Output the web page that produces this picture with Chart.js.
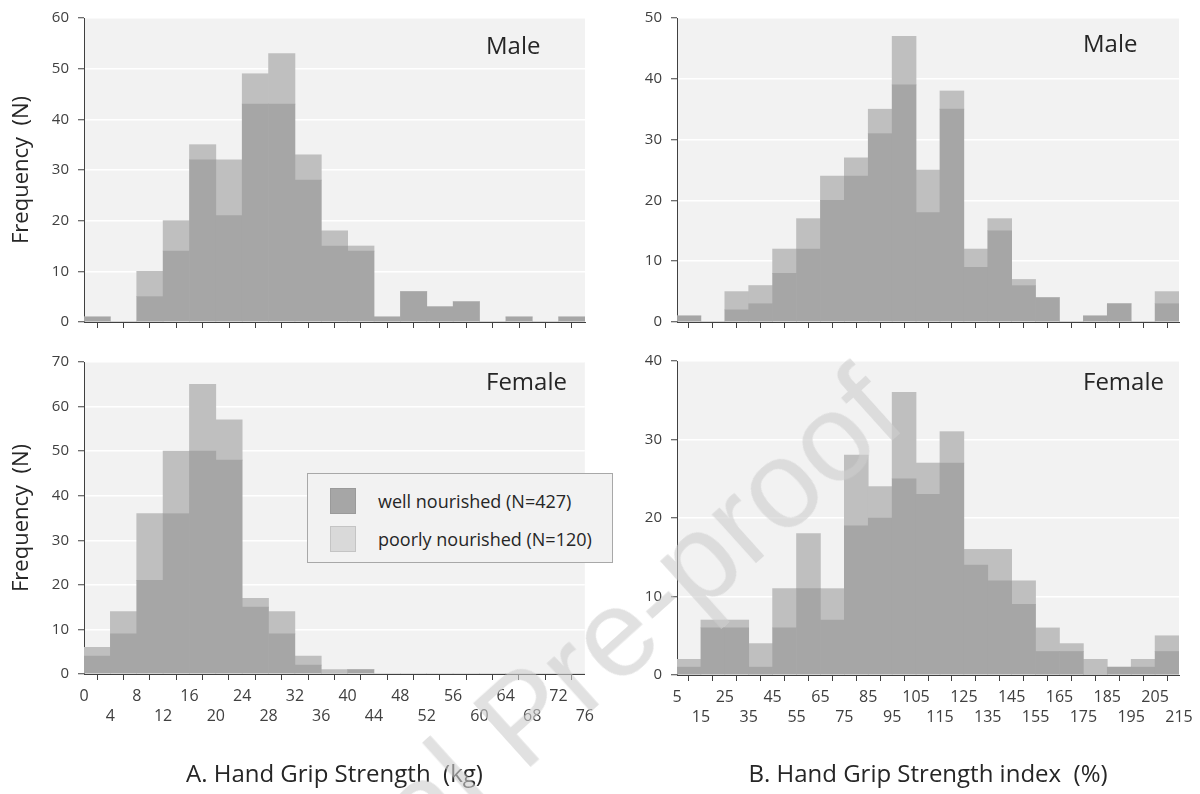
<!DOCTYPE html>
<html>
<head>
<meta charset="utf-8">
<script src="https://cdn.jsdelivr.net/npm/chart.js@4.4.1/dist/chart.umd.min.js"></script>
<style>
  body { margin: 0; background: #fff; }
  #lienzo { position: relative; width: 1200px; height: 794px; overflow: hidden; background: #fff; font-family: 'Open Sans', sans-serif; }
  .panel { position: absolute; }
  #leyenda { position: absolute; left: 307px; top: 473px; width: 306px; height: 90px; box-sizing: border-box;
             border: 1px solid #a8a8a8; background: #f2f2f2; }
  .item { position: absolute; left: 70px; font-size: 18px; color: #262626; line-height: 26px; white-space: nowrap; }
  .muestra { position: absolute; left: -48px; top: 0; width: 26px; height: 26px; box-sizing: border-box; }
  #marca { position: absolute; left: 192px; top: 965px; font: 125px 'Liberation Sans', Arial, sans-serif; line-height: 125px;
           color: rgba(205, 205, 205, 0.6); white-space: nowrap; transform-origin: 0 106px; transform: rotate(-42deg);
           pointer-events: none; }
</style>
</head>
<body>
<div id="lienzo">
  <div class="panel" style="left:0;top:0"><canvas id="gA1" width="600" height="340"></canvas></div>
  <div class="panel" style="left:600px;top:0"><canvas id="gB1" width="600" height="340"></canvas></div>
  <div class="panel" style="left:0;top:340px"><canvas id="gA2" width="600" height="454"></canvas></div>
  <div class="panel" style="left:600px;top:340px"><canvas id="gB2" width="600" height="454"></canvas></div>
  <div id="leyenda"></div>
  <div id="marca">Journal Pre-proof</div>
</div>
<script>
// Datos
const bordesA = [0, 4, 8, 12, 16, 20, 24, 28, 32, 36, 40, 44, 48, 52, 56, 60, 64, 68, 72, 76];
const bordesB = [5, 15, 25, 35, 45, 55, 65, 75, 85, 95, 105, 115, 125, 135, 145, 155, 165, 175, 185, 195, 205, 215];

const nombresSeries = ["well nourished (N=427)", "poorly nourished (N=120)"];
const titulosX = ["A. Hand Grip Strength  (kg)", "B. Hand Grip Strength index  (%)"];
const tituloY = "Frequency  (N)";
const etiquetasPanel = ["Male", "Female"];

// Fuerza (kg), hombres
const bienHombresA = [1, 0, 5, 14, 32, 21, 43, 43, 28, 15, 14, 1, 6, 3, 4, 0, 1, 0, 1];
const malHombresA  = [0, 0, 5, 6, 3, 11, 6, 10, 5, 3, 1, 0, 0, 0, 0, 0, 0, 0, 0];
// Fuerza (kg), mujeres
const bienMujeresA = [4, 9, 21, 36, 50, 48, 15, 9, 2, 0, 1, 0, 0, 0, 0, 0, 0, 0, 0];
const malMujeresA  = [2, 5, 15, 14, 15, 9, 2, 5, 2, 1, 0, 0, 0, 0, 0, 0, 0, 0, 0];
// Indice (%), hombres
const bienHombresB = [1, 0, 2, 3, 8, 12, 20, 24, 31, 39, 18, 35, 9, 15, 6, 4, 0, 1, 3, 0, 3];
const malHombresB  = [0, 0, 3, 3, 4, 5, 4, 3, 4, 8, 7, 3, 3, 2, 1, 0, 0, 0, 0, 0, 2];
// Indice (%), mujeres
const bienMujeresB = [1, 6, 6, 1, 6, 11, 7, 19, 20, 25, 23, 27, 14, 12, 9, 3, 3, 0, 1, 1, 3];
const malMujeresB  = [1, 1, 1, 3, 5, 7, 4, 9, 4, 11, 4, 4, 2, 4, 3, 3, 1, 2, 0, 1, 2];

const colorBien = "#a6a6a6";
const colorMal = "#bfbfbf";
const colorTexto = "#262626";
const colorEje = "#404040";
const FUENTE = "'Open Sans', 'DejaVu Sans', sans-serif";

Chart.defaults.font.family = FUENTE;
Chart.defaults.color = colorEje;

// Fondo gris del area de trazado
const fondoPlot = {
  id: "fondoPlot",
  beforeDraw(chart) {
    const { ctx, chartArea: a } = chart;
    ctx.save();
    ctx.fillStyle = "#f2f2f2";
    ctx.fillRect(a.left, a.top, a.right - a.left, a.bottom - a.top);
    ctx.restore();
  }
};

// Texto "Male" / "Female" dentro del panel
const etiquetaPanel = {
  id: "etiquetaPanel",
  afterDatasetsDraw(chart, args, opts) {
    const { ctx, chartArea: a } = chart;
    ctx.save();
    ctx.font = "24px " + FUENTE;
    ctx.fillStyle = colorTexto;
    ctx.textBaseline = "alphabetic";
    ctx.fillText(opts.texto, a.left + opts.dx, a.top + opts.dy);
    ctx.restore();
  }
};

function crearHistograma(id, cfg) {
  const bordes = cfg.bordes;
  const centros = bordes.slice(0, -1).map((b, i) => (b + bordes[i + 1]) / 2);

  new Chart(document.getElementById(id), {
    type: "bar",
    data: {
      datasets: [
        {
          label: nombresSeries[0],
          data: centros.map((x, i) => ({ x: x, y: cfg.bien[i] })),
          backgroundColor: colorBien,
          borderWidth: 0,
          barPercentage: 1,
          categoryPercentage: 1
        },
        {
          label: nombresSeries[1],
          data: centros.map((x, i) => ({ x: x, y: cfg.mal[i] })),
          backgroundColor: colorMal,
          borderWidth: 0,
          barPercentage: 1,
          categoryPercentage: 1
        }
      ]
    },
    options: {
      responsive: false,
      animation: false,
      events: [],
      layout: { padding: cfg.padding },
      plugins: {
        legend: { display: false },
        tooltip: { enabled: false },
        etiquetaPanel: cfg.etiqueta
      },
      scales: {
        x: {
          type: "linear",
          stacked: true,
          offset: false,
          min: bordes[0],
          max: bordes[bordes.length - 1],
          afterBuildTicks: s => { s.ticks = bordes.map(v => ({ value: v })); },
          afterFit: s => { s.height = cfg.altoX; },
          ticks: {
            display: !!cfg.tituloX,
            autoSkip: false,
            maxRotation: 0,
            padding: 6,
            color: colorEje,
            font: { size: 16, lineHeight: 1.25 },
            callback: (v, i) => (i % 2 === 0 ? [String(v), ""] : ["", String(v)])
          },
          grid: { drawOnChartArea: false, tickLength: 6, tickColor: colorEje, tickWidth: 1 },
          border: { display: true, color: colorEje, width: 1 },
          title: {
            display: !!cfg.tituloX,
            text: cfg.tituloX || "",
            color: colorTexto,
            font: { size: 24 },
            padding: { top: 0, bottom: 4 }
          }
        },
        y: {
          stacked: true,
          min: 0,
          max: cfg.maxY,
          afterFit: s => { s.width = cfg.anchoY; },
          ticks: { stepSize: 10, padding: 9, color: colorEje, font: { size: 15 } },
          grid: { color: "#ffffff", lineWidth: 1.5, tickLength: 6, tickColor: colorEje, tickWidth: 1 },
          border: { display: true, color: colorEje, width: 1 },
          title: {
            display: !!cfg.conTituloY,
            text: tituloY,
            color: colorTexto,
            font: { size: 22 },
            padding: { top: 9, bottom: 0 }
          }
        }
      }
    },
    plugins: [fondoPlot, etiquetaPanel]
  });
}

crearHistograma("gA1", {
  bordes: bordesA, bien: bienHombresA, mal: malHombresA, maxY: 60,
  padding: { top: 14, right: 15, left: 0, bottom: 0 }, anchoY: 84, altoX: 11,
  conTituloY: true, etiqueta: { texto: etiquetasPanel[0], dx: 402, dy: 36 }
});
crearHistograma("gA2", {
  bordes: bordesA, bien: bienMujeresA, mal: malMujeresA, maxY: 70,
  padding: { top: 22, right: 15, left: 0, bottom: 0 }, anchoY: 84, altoX: 120,
  conTituloY: true, tituloX: titulosX[0], etiqueta: { texto: etiquetasPanel[1], dx: 402, dy: 28 }
});
crearHistograma("gB1", {
  bordes: bordesB, bien: bienHombresB, mal: malHombresB, maxY: 50,
  padding: { top: 16, right: 21, left: 0, bottom: 0 }, anchoY: 77, altoX: 14,
  etiqueta: { texto: etiquetasPanel[0], dx: 406, dy: 34 }
});
crearHistograma("gB2", {
  bordes: bordesB, bien: bienMujeresB, mal: malMujeresB, maxY: 40,
  padding: { top: 21, right: 21, left: 0, bottom: 0 }, anchoY: 77, altoX: 119,
  tituloX: titulosX[1], etiqueta: { texto: etiquetasPanel[1], dx: 406, dy: 29 }
});

// Leyenda compartida
const leyenda = document.getElementById("leyenda");
const muestras = [
  { fondo: colorBien, borde: "#9a9a9a", top: 14 },
  { fondo: "#d9d9d9", borde: "#c4c4c4", top: 52 }
];
nombresSeries.forEach((nombre, i) => {
  const item = document.createElement("div");
  item.className = "item";
  item.style.top = muestras[i].top + "px";
  const cuadro = document.createElement("span");
  cuadro.className = "muestra";
  cuadro.style.background = muestras[i].fondo;
  cuadro.style.border = "1px solid " + muestras[i].borde;
  item.appendChild(cuadro);
  item.appendChild(document.createTextNode(nombre));
  leyenda.appendChild(item);
});
</script>
</body>
</html>
